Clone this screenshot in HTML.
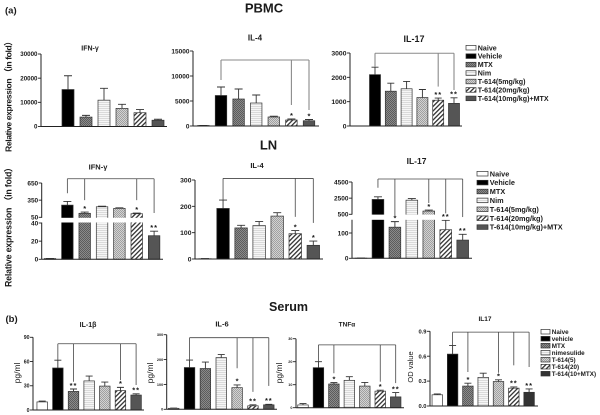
<!DOCTYPE html>
<html lang="en">
<head>
<meta charset="utf-8">
<title>Cytokine expression bar charts</title>
<style>
html,body{margin:0;padding:0;background:#fff;width:600px;height:415px;overflow:hidden}
svg{display:block;filter:blur(.35px)}
text{font-family:"Liberation Sans",sans-serif;fill:#1a1a1a}
</style>
</head>
<body>
<svg id="figure" width="600" height="415" viewBox="0 0 600 415" xmlns="http://www.w3.org/2000/svg">
<defs>
<pattern id="p-mtx" width="2" height="2" patternUnits="userSpaceOnUse"><rect width="2" height="2" fill="#8a8a8a"/><rect width="1" height="1" fill="#5c5c5c"/><rect x="1" y="1" width="1" height="1" fill="#5c5c5c"/></pattern>
<pattern id="p-nim" width="2" height="2" patternUnits="userSpaceOnUse"><rect width="2" height="2" fill="#f6f6f6"/><rect width="2" height=".7" fill="#cfcfcf"/></pattern>
<pattern id="p-t5" width="2" height="2" patternUnits="userSpaceOnUse"><rect width="2" height="2" fill="#d2d2d2"/><rect width="1" height="1" fill="#a0a0a0"/><rect x="1" y="1" width="1" height="1" fill="#a0a0a0"/></pattern>
<pattern id="p-t20" width="3.2" height="3.2" patternUnits="userSpaceOnUse" patternTransform="rotate(45)"><rect width="3.2" height="3.2" fill="#fff"/><rect width="1.3" height="3.2" fill="#333"/></pattern>
</defs>
<text x="5" y="13.5" font-size="9.5" font-weight="bold">(a)</text>
<text x="5.5" y="322" font-size="9.5" font-weight="bold">(b)</text>
<text x="264" y="12.5" font-size="13" font-weight="bold" text-anchor="middle">PBMC</text>
<text x="268.5" y="149.5" font-size="13" font-weight="bold" text-anchor="middle">LN</text>
<text x="288.5" y="311" font-size="12.5" font-weight="bold" text-anchor="middle">Serum</text>
<text transform="translate(11.5,94.5) rotate(-90)" font-size="8.6" font-weight="bold" fill="#333" text-anchor="middle" textLength="115" lengthAdjust="spacing">Relative expression （in fold）</text>
<text transform="translate(11.5,225) rotate(-90)" font-size="8.8" font-weight="bold" text-anchor="middle" textLength="124" lengthAdjust="spacing">Relative expression （in fold）</text>
<text transform="translate(20,373) rotate(-90)" font-size="8.5" text-anchor="middle">pg/ml</text>
<text transform="translate(153,373) rotate(-90)" font-size="8.5" text-anchor="middle">pg/ml</text>
<text transform="translate(282,373) rotate(-90)" font-size="8.5" text-anchor="middle">pg/ml</text>
<text transform="translate(413,367) rotate(-90)" font-size="7.5" text-anchor="middle">OD value</text>
</svg>
<script>
// ---------- shared categories ----------
const groupFills = ['#fff', '#000', 'url(#p-mtx)', 'url(#p-nim)', 'url(#p-t5)', 'url(#p-t20)', '#555'];
const legendLabelsA = ['Naive', 'Vehicle', 'MTX', 'Nim', 'T-614(5mg/kg)', 'T-614(20mg/kg)', 'T-614(10mg/kg)+MTX'];
const legendLabelsB = ['Naive', 'vehicle', 'MTX', 'nimesulide', 'T-614(5)', 'T-614(20)', 'T-614(10+MTX)'];

// ---------- PBMC ----------
const pbmcIfnTicks = [0, 10000, 20000, 30000];
const pbmcIfnValues = [0, 15300, 3900, 10900, 7500, 5700, 2600];
const pbmcIfnErrors = [0, 21000, 4600, 15800, 9200, 7000, 3000];
const pbmcIfnStars = ['', '', '', '', '', '', ''];

const pbmcIl4Ticks = [0, 5000, 10000, 15000];
const pbmcIl4Values = [100, 6100, 5400, 4600, 1800, 1200, 1050];
const pbmcIl4Errors = [120, 7800, 7400, 6200, 1950, 1400, 1300];
const pbmcIl4Stars = ['', '', '', '', '', '*', '*'];
const pbmcIl4BracketBars = [1, 5, 6];
const pbmcIl4BracketEnds = [9200, 4200, 3200];
const pbmcIl4BracketTop = 13200;

const pbmcIl17Ticks = [0, 1000, 2000, 3000];
const pbmcIl17Values = [0, 2110, 1430, 1530, 1170, 1060, 930];
const pbmcIl17Errors = [0, 2415, 1760, 1830, 1500, 1150, 1160];
const pbmcIl17Stars = ['', '', '', '', '', '**', '**'];
const pbmcIl17BracketBars = [1, 5, 6];
const pbmcIl17BracketEnds = [2440, 1620, 1480];
const pbmcIl17BracketTop = 2990;

// ---------- LN ----------
const lnIfnTicks = [0, 20, 40, 50, 350, 650];
const lnIfnValues = [0.8, 263, 120, 234, 206, 112, 26];
const lnIfnErrors = [1, 327, 142, 245, 215, 125, 31];
const lnIfnStars = ['', '', '*', '', '', '*', '**'];
const lnIfnBracketBars = [1, 2, 5, 6];
const lnIfnBracketEnds = [471, 350, 350, 125];
const lnIfnBracketTop = 725;

const lnIl4Ticks = [0, 100, 200, 300];
const lnIl4Values = [1, 192, 118, 127, 163, 96, 52];
const lnIl4Errors = [1.5, 224, 128, 142, 176, 108, 68];
const lnIl4Stars = ['', '', '', '', '', '*', '*'];
const lnIl4BracketBars = [1, 5, 6];
const lnIl4BracketEnds = [224, 160, 137];
const lnIl4BracketTop = 306;

const lnIl17Ticks = [0, 100, 500, 2500, 4500];
const lnIl17Values = [0.5, 2340, 123, 2250, 900, 113, 72];
const lnIl17Errors = [1, 2660, 145, 2450, 1020, 150, 95];
const lnIl17Stars = ['', '', '*', '', '*', '**', '**'];
const lnIl17BracketBars = [1, 2, 4, 5, 6];
const lnIl17BracketEnds = [3790, 300, 1900, 620, 160];
const lnIl17BracketTop = 4875;

// ---------- Serum ----------
const il1bTicks = [0, 30, 60, 90];
const il1bValues = [10, 52, 23, 36, 29.6, 24, 18.5];
const il1bErrors = [11, 61.7, 26, 42, 34.6, 28, 20];
const il1bStars = ['', '', '**', '', '', '*', '**'];
const il1bBracketBars = [1, 2, 5, 6];
const il1bBracketEnds = [61.7, 35, 37, 31];
const il1bBracketTop = 82;

const il6Ticks = [0, 100, 200, 300];
const il6Values = [4, 168, 164, 208, 87, 14, 18];
const il6Errors = [5, 198, 190, 220, 98, 18, 20];
const il6Stars = ['', '', '', '', '*', '**', '**'];
const il6BracketBars = [1, 4, 5, 6];
const il6BracketEnds = [198, 165, 70, 94];
const il6BracketTop = 288;

const tnfTicks = [0, 10, 20, 30];
const tnfValues = [1.2, 17.4, 10.3, 11.9, 9.4, 7.2, 4.7];
const tnfErrors = [1.8, 20, 10.9, 13.5, 11, 7.6, 6.6];
const tnfStars = ['', '', '*', '', '', '*', '**'];
const tnfBracketBars = [1, 2, 5, 6];
const tnfBracketEnds = [20, 15, 11.3, 10.7];
const tnfBracketTop = 27.3;

const odTicks = ['0.0', '0.3', '0.6', '0.9'];
const odValues = [0.135, 0.625, 0.24, 0.345, 0.295, 0.215, 0.165];
const odErrors = [0.145, 0.73, 0.275, 0.395, 0.315, 0.23, 0.205];
const odStars = ['', '', '*', '', '*', '**', '**'];
const odBracketBars = [1, 2, 4, 5, 6];
const odBracketEnds = [0.73, 0.41, 0.4, 0.49, 0.47];
const odBracketTop = 0.89;

const svg = document.getElementById('figure');
const NS = 'http://www.w3.org/2000/svg';

function make(parent, tag, attrs) {
  const node = document.createElementNS(NS, tag);
  for (const k in attrs) node.setAttribute(k, attrs[k]);
  parent.appendChild(node);
  return node;
}
function linearScale(y0, yTop, vTop) {
  return v => y0 - (y0 - yTop) * v / vTop;
}
// Broken axis: lower segment up to `lowMax`, then an upper segment through two anchor values.
function brokenScale(y0, lowRef, lowRefY, lowMax, upA, upAY, upB, upBY) {
  return v => v <= lowMax
    ? y0 - (y0 - lowRefY) * v / lowRef
    : upAY - (upAY - upBY) * (v - upA) / (upB - upA);
}

function drawPanel(o) {
  const g = make(svg, 'g', {});
  
  
  const bandX = i => o.x0 + o.step * i;
  const y = o.scale;
  const base = y(0);

  const title = make(g, 'text', {x: o.titleX, y: o.titleY, 'font-size': o.titleSize, 'font-weight': 'bold', 'text-anchor': 'middle'});
  title.textContent = o.title;
  
  

  o.values.forEach((v, i) => {
    const top = y(v);
    const errTop = y(o.errors[i]);
    const cx = bandX(i);
    if (o.errors[i] > v) {
      const err = make(g, 'path', {d: `M${cx} ${top}V${errTop}M${cx - o.cap} ${errTop}H${cx + o.cap}`, stroke: '#333', 'stroke-width': .9, fill: 'none'});
      
      
    }
    const bar = make(g, 'rect', {x: cx - o.barW / 2, y: top, width: o.barW, height: Math.max(base - top, 0), fill: o.fills ? o.fills[i] : groupFills[i], stroke: '#333', 'stroke-width': .7});
    
    
  });

  if (o.gap) {
    const gap = make(g, 'rect', {x: o.axisX + .6, y: o.gap[0], width: o.axisEnd - o.axisX, height: o.gap[1] - o.gap[0], fill: '#fff'});
    
    
  }

  o.values.forEach((v, i) => {
    if (!o.stars[i]) return;
    const star = make(g, 'text', {x: bandX(i), y: y(o.errors[i]) - 1.2, 'font-size': 7.5, 'font-weight': 'bold', 'letter-spacing': o.stars[i].length > 1 ? .9 : 0, 'text-anchor': 'middle', fill: '#666'});
    star.textContent = o.stars[i];
    
    
  });

  const segments = o.gap ? [[base, o.gap[1]], [o.gap[0], y(o.ticks[o.ticks.length - 1])]] : [[base, y(Number(o.ticks[o.ticks.length - 1]))]];
  segments.forEach(s => {
    const axis = make(g, 'line', {x1: o.axisX, x2: o.axisX, y1: s[0], y2: s[1], stroke: '#222', 'stroke-width': 1});
    
    
  });
  const xAxis = make(g, 'line', {x1: o.axisX, x2: o.axisEnd, y1: base, y2: base, stroke: '#222', 'stroke-width': 1});
  
  

  o.ticks.forEach(t => {
    const ty = y(Number(t));
    const tick = make(g, 'line', {x1: o.axisX - 3, x2: o.axisX, y1: ty, y2: ty, stroke: '#222', 'stroke-width': .9});
    
    
    const lab = make(g, 'text', {x: o.axisX - 3.5, y: ty + o.tickSize * .36, 'font-size': o.tickSize, 'font-weight': 'bold', 'text-anchor': 'end'});
    lab.textContent = t;
    
    
  });

  if (o.bracketBars) {
    const by = y(o.bracketTop);
    const first = bandX(o.bracketBars[0]);
    const last = bandX(o.bracketBars[o.bracketBars.length - 1]);
    const topLine = make(g, 'line', {x1: first, x2: last, y1: by, y2: by, stroke: o.bracketColor, 'stroke-width': o.bracketWidth});
    
    
    o.bracketBars.forEach((b, i) => {
      const drop = make(g, 'line', {x1: bandX(b), x2: bandX(b), y1: by, y2: y(o.bracketEnds[i]), stroke: o.bracketColor, 'stroke-width': o.bracketWidth});
      
      
    });
  }
}

function drawLegend(name, labels, x, y0, dy, swW, swH, size, fills) {
  const g = make(svg, 'g', {});
  
  
  labels.forEach((label, i) => {
    const cy = y0 + dy * i;
    const sw = make(g, 'rect', {x: x, y: cy - swH / 2, width: swW, height: swH, fill: fills[i], stroke: '#333', 'stroke-width': .7});
    
    
    const t = make(g, 'text', {x: x + swW + 1.8, y: cy + size * .36, 'font-size': size, 'font-weight': 'bold', fill: '#333'});
    t.textContent = label;
    
    
  });
}

const gridBracket = {bracketColor: '#8a8a8a', bracketWidth: 1.1};
const darkBracket = {bracketColor: '#444', bracketWidth: .8};

drawPanel({name: 'pbmc-ifn', title: 'IFN-γ', titleX: 90, titleY: 50.5, titleSize: 7,
  ticks: pbmcIfnTicks, values: pbmcIfnValues, errors: pbmcIfnErrors, stars: pbmcIfnStars,
  scale: linearScale(126.5, 54, 30000), axisX: 41, axisEnd: 167, x0: 50, step: 18, barW: 12, cap: 4, tickSize: 6.2});

drawPanel(Object.assign({name: 'pbmc-il4', title: 'IL-4', titleX: 255, titleY: 40.5, titleSize: 8,
  ticks: pbmcIl4Ticks, values: pbmcIl4Values, errors: pbmcIl4Errors, stars: pbmcIl4Stars,
  scale: linearScale(126, 51, 15000), axisX: 193, axisEnd: 319, x0: 203.4, step: 17.6, barW: 11.5, cap: 4, tickSize: 6.5,
  bracketBars: pbmcIl4BracketBars, bracketEnds: pbmcIl4BracketEnds, bracketTop: pbmcIl4BracketTop}, gridBracket));

drawPanel(Object.assign({name: 'pbmc-il17', title: 'IL-17', titleX: 414, titleY: 42, titleSize: 9,
  ticks: pbmcIl17Ticks, values: pbmcIl17Values, errors: pbmcIl17Errors, stars: pbmcIl17Stars,
  scale: linearScale(126, 53, 3000), axisX: 350, axisEnd: 462, x0: 359.2, step: 15.8, barW: 11, cap: 3.5, tickSize: 6.8,
  bracketBars: pbmcIl17BracketBars, bracketEnds: pbmcIl17BracketEnds, bracketTop: pbmcIl17BracketTop}, gridBracket));

drawLegend('pbmc-legend', legendLabelsA, 466, 47.7, 8.45, 10, 4.6, 7.1, groupFills);

drawPanel(Object.assign({name: 'ln-ifn', title: 'IFN-γ', titleX: 98, titleY: 169.5, titleSize: 7.5,
  ticks: lnIfnTicks, values: lnIfnValues, errors: lnIfnErrors, stars: lnIfnStars,
  scale: brokenScale(259.3, 40, 223, 40, 50, 217.3, 650, 183), gap: [217.8, 222.5],
  axisX: 41.7, axisEnd: 163, x0: 50, step: 17.35, barW: 11.5, cap: 4, tickSize: 6.5,
  bracketBars: lnIfnBracketBars, bracketEnds: lnIfnBracketEnds, bracketTop: lnIfnBracketTop}, darkBracket));

drawPanel(Object.assign({name: 'ln-il4', title: 'IL-4', titleX: 257, titleY: 168, titleSize: 7.5,
  ticks: lnIl4Ticks, values: lnIl4Values, errors: lnIl4Errors, stars: lnIl4Stars,
  scale: linearScale(259, 180, 300), axisX: 195, axisEnd: 323, x0: 205, step: 18.05, barW: 12.5, cap: 4, tickSize: 6.8,
  bracketBars: lnIl4BracketBars, bracketEnds: lnIl4BracketEnds, bracketTop: lnIl4BracketTop}, darkBracket));

drawPanel(Object.assign({name: 'ln-il17', title: 'IL-17', titleX: 416.5, titleY: 164, titleSize: 8.5,
  ticks: lnIl17Ticks, values: lnIl17Values, errors: lnIl17Errors, stars: lnIl17Stars,
  scale: brokenScale(258.3, 100, 233, 150, 500, 214.3, 4500, 182), gap: [214.6, 219.8],
  axisX: 352, axisEnd: 472, x0: 361, step: 16.95, barW: 11.7, cap: 4, tickSize: 6.5,
  bracketBars: lnIl17BracketBars, bracketEnds: lnIl17BracketEnds, bracketTop: lnIl17BracketTop}, darkBracket));

drawLegend('ln-legend', legendLabelsA, 477, 173.7, 8.9, 11, 4.6, 7.3, groupFills);

drawPanel(Object.assign({name: 'serum-il1b', title: 'IL-1β', titleX: 88, titleY: 327, titleSize: 7,
  ticks: il1bTicks, values: il1bValues, errors: il1bErrors, stars: il1bStars,
  scale: linearScale(410, 337.3, 90), axisX: 33, axisEnd: 144, x0: 42.2, step: 15.65, barW: 10.5, cap: 3.5, tickSize: 5.2,
  bracketBars: il1bBracketBars, bracketEnds: il1bBracketEnds, bracketTop: il1bBracketTop}, darkBracket));

drawPanel(Object.assign({name: 'serum-il6', title: 'IL-6', titleX: 222, titleY: 326.5, titleSize: 7.5,
  ticks: il6Ticks, values: il6Values, errors: il6Errors, stars: il6Stars,
  scale: linearScale(409.3, 334.7, 300), axisX: 166.7, axisEnd: 277, x0: 173.7, step: 15.85, barW: 10.5, cap: 3.5, tickSize: 3.8,
  bracketBars: il6BracketBars, bracketEnds: il6BracketEnds, bracketTop: il6BracketTop}, darkBracket));

drawPanel(Object.assign({name: 'serum-tnfa', title: 'TNFα', titleX: 347, titleY: 326.5, titleSize: 6.5,
  ticks: tnfTicks, values: tnfValues, errors: tnfErrors, stars: tnfStars,
  scale: linearScale(407.7, 338.7, 30), axisX: 296, axisEnd: 404, x0: 303, step: 15.45, barW: 10.5, cap: 3.5, tickSize: 3.8,
  bracketBars: tnfBracketBars, bracketEnds: tnfBracketEnds, bracketTop: tnfBracketTop}, darkBracket));

const serumOdFills = groupFills.slice(0, 6).concat(['#333']);
drawPanel(Object.assign({name: 'serum-il17', title: 'IL17', titleX: 485, titleY: 321, titleSize: 6.5,
  ticks: odTicks, values: odValues, errors: odErrors, stars: odStars, fills: serumOdFills,
  scale: linearScale(406, 331.3, 0.9), axisX: 430, axisEnd: 538, x0: 437.3, step: 15.3, barW: 10.5, cap: 3.5, tickSize: 5.8,
  bracketBars: odBracketBars, bracketEnds: odBracketEnds, bracketTop: odBracketTop}, darkBracket));

drawLegend('serum-legend', legendLabelsB, 541, 331.7, 7, 9, 4.6, 6.3, serumOdFills);
</script>
</body>
</html>
